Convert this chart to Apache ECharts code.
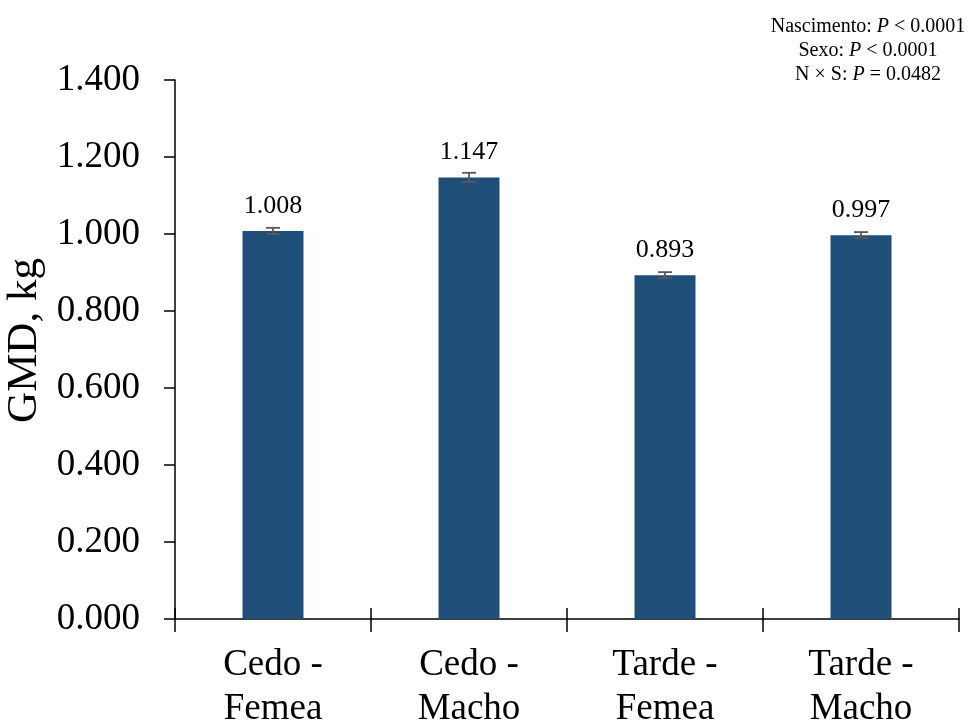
<!DOCTYPE html>
<html>
<head>
<meta charset="utf-8">
<script src="https://cdn.jsdelivr.net/npm/echarts@6/dist/echarts.min.js"></script>
<style>
  html, body { margin: 0; padding: 0; background: #fff; }
  #chart { width: 969px; height: 727px; }
</style>
</head>
<body>
<div id="chart"></div>
<script>
var categories = ['Cedo -\nFemea', 'Cedo -\nMacho', 'Tarde -\nFemea', 'Tarde -\nMacho'];
var gmd = [1.008, 1.147, 0.893, 0.997];
var errors = [0.008, 0.012, 0.008, 0.008];
var yTicks = { min: 0, max: 1.4, interval: 0.2 };

var font = '"Liberation Serif", "Times New Roman", serif';

var chart = echarts.init(document.getElementById('chart'));

var errData = gmd.map(function(v, i) {
    return [i, v - errors[i], v + errors[i]];
});

chart.setOption({
    animation: false,
    title: {
        text: '{n|Nascimento: }{i|P}{n| < 0.0001}\n{n|Sexo: }{i|P}{n| < 0.0001}\n{n|N × S: }{i|P}{n| = 0.0482}',
        left: 863,
        top: 10,
        textAlign: 'center',
        textStyle: {
            fontWeight: 'normal',
            rich: {
                n: { fontFamily: font, fontSize: 20, fontWeight: 'normal', color: '#000', lineHeight: 24 },
                i: { fontFamily: font, fontSize: 20, fontWeight: 'normal', color: '#000', fontStyle: 'italic', lineHeight: 24 }
            }
        }
    },
    grid: {
        left: 175,
        right: 10,
        top: 80,
        bottom: 108,
        outerBoundsMode: 'none'
    },
    xAxis: [
        {
            type: 'category',
            data: categories,
            axisLine: { lineStyle: { color: '#000', width: 1.5 } },
            axisTick: { show: true, length: 13, lineStyle: { color: '#000', width: 1.5 } },
            axisLabel: {
                margin: 24,
                fontFamily: font,
                fontSize: 37,
                color: '#000',
                lineHeight: 44
            }
        },
        {
            type: 'category',
            data: categories,
            position: 'bottom',
            axisLine: { show: false },
            axisTick: { show: true, inside: true, length: 11, lineStyle: { color: '#000', width: 1.5 } },
            axisLabel: { show: false }
        }
    ],
    yAxis: {
        type: 'value',
        min: yTicks.min,
        max: yTicks.max,
        interval: yTicks.interval,
        name: 'GMD, kg',
        nameLocation: 'middle',
        nameGap: 118,
        nameTextStyle: { fontFamily: font, fontSize: 43, color: '#000', padding: [0, 0, 0, 18] },
        axisLine: { show: true, lineStyle: { color: '#000', width: 1.5 } },
        axisTick: { show: true, length: 11, lineStyle: { color: '#000', width: 1.5 } },
        splitLine: { show: false },
        axisLabel: {
            margin: 35,
            fontFamily: font,
            fontSize: 37,
            color: '#000',
            formatter: function(v) { return v.toFixed(3); }
        }
    },
    series: [
        {
            name: 'GMD',
            type: 'bar',
            data: gmd,
            barWidth: 61,
            itemStyle: { color: '#1F4E79' },
            label: {
                show: true,
                position: 'top',
                distance: 12,
                fontFamily: font,
                fontSize: 26,
                color: '#000',
                formatter: function(p) { return p.value.toFixed(3); }
            }
        },
        {
            name: 'err',
            type: 'custom',
            data: errData,
            z: 5,
            renderItem: function(params, api) {
                var x = api.value(0);
                var lo = api.coord([x, api.value(1)]);
                var hi = api.coord([x, api.value(2)]);
                var half = 7;
                var style = { stroke: '#595959', lineWidth: 1.8 };
                return {
                    type: 'group',
                    children: [
                        { type: 'line', shape: { x1: lo[0], y1: lo[1], x2: hi[0], y2: hi[1] }, style: style },
                        { type: 'line', shape: { x1: lo[0] - half, y1: lo[1], x2: lo[0] + half, y2: lo[1] }, style: style },
                        { type: 'line', shape: { x1: hi[0] - half, y1: hi[1], x2: hi[0] + half, y2: hi[1] }, style: style }
                    ]
                };
            }
        }
    ]
});
</script>
</body>
</html>
